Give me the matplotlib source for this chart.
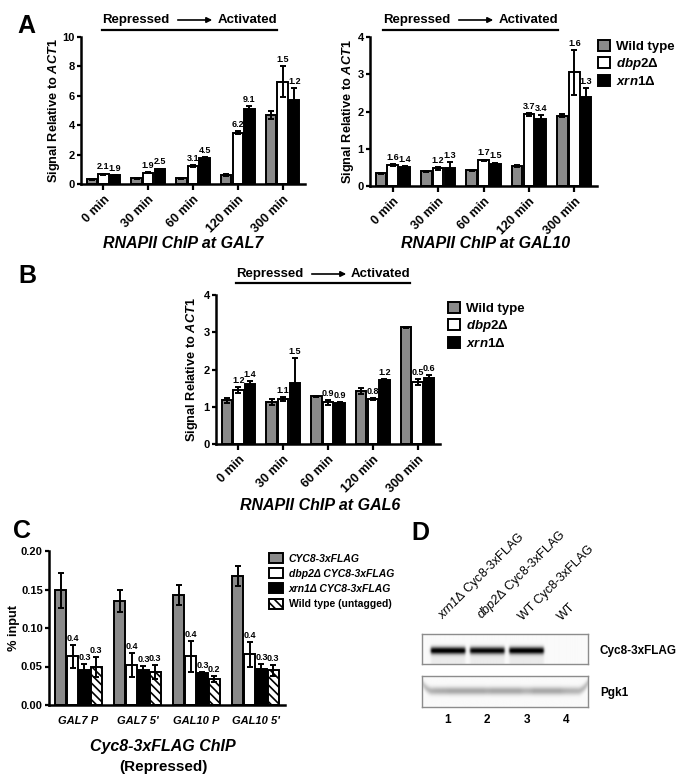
import numpy as np
import matplotlib
matplotlib.use('Agg')
import matplotlib.pyplot as plt
from matplotlib.patches import Patch, FancyArrowPatch

plt.rcParams['font.family'] = ['Liberation Sans', 'DejaVu Sans']
plt.rcParams['font.weight'] = 'bold'
plt.rcParams['axes.labelweight'] = 'bold'
plt.rcParams['mathtext.fontset'] = 'custom'
plt.rcParams['mathtext.it'] = 'Liberation Sans:italic:bold'
plt.rcParams['mathtext.rm'] = 'Liberation Sans:bold'
plt.rcParams['mathtext.bf'] = 'Liberation Sans:bold'
plt.rcParams['mathtext.sf'] = 'Liberation Sans:italic:normal'
plt.rcParams['hatch.linewidth'] = 1.2

# ---- data ----
times = ['0 min', '30 min', '60 min', '120 min', '300 min']
strains = ['Wild type', r'$\mathit{dbp2}$Δ', r'$\mathit{xrn1}$Δ']

gal7_wt = [0.32, 0.40, 0.38, 0.60, 4.70]
gal7_wt_err = [0.04, 0.04, 0.04, 0.06, 0.30]
gal7_dbp2 = [0.66, 0.78, 1.25, 3.50, 6.95]
gal7_dbp2_err = [0.05, 0.06, 0.06, 0.08, 1.05]
gal7_xrn1 = [0.60, 1.00, 1.80, 5.10, 5.70]
gal7_xrn1_err = [0.04, 0.05, 0.05, 0.20, 0.85]
gal7_dbp2_fold = ['2.1', '1.9', '3.1', '6.2', '1.5']
gal7_xrn1_fold = ['1.9', '2.5', '4.5', '9.1', '1.2']

gal10_wt = [0.34, 0.39, 0.42, 0.54, 1.89]
gal10_wt_err = [0.02, 0.02, 0.02, 0.03, 0.04]
gal10_dbp2 = [0.56, 0.47, 0.69, 1.92, 3.05]
gal10_dbp2_err = [0.03, 0.03, 0.02, 0.04, 0.60]
gal10_xrn1 = [0.51, 0.49, 0.60, 1.80, 2.40]
gal10_xrn1_err = [0.03, 0.15, 0.03, 0.11, 0.23]
gal10_dbp2_fold = ['1.6', '1.2', '1.7', '3.7', '1.6']
gal10_xrn1_fold = ['1.4', '1.3', '1.5', '3.4', '1.3']

gal6_wt = [1.17, 1.12, 1.28, 1.42, 3.13]
gal6_wt_err = [0.07, 0.08, 0.02, 0.07, 0.02]
gal6_dbp2 = [1.46, 1.21, 1.12, 1.21, 1.66]
gal6_dbp2_err = [0.08, 0.05, 0.07, 0.02, 0.08]
gal6_xrn1 = [1.60, 1.64, 1.10, 1.73, 1.77]
gal6_xrn1_err = [0.10, 0.66, 0.03, 0.02, 0.07]
gal6_dbp2_fold = ['1.2', '1.1', '0.9', '0.8', '0.5']
gal6_xrn1_fold = ['1.4', '1.5', '0.9', '1.2', '0.6']

regions = ['GAL7 P', "GAL7 5'", 'GAL10 P', "GAL10 5'"]
cyc8_labels = ['CYC8-3xFLAG', 'dbp2Δ CYC8-3xFLAG', 'xrn1Δ CYC8-3xFLAG', 'Wild type (untagged)']
cyc8_wt = [0.149, 0.135, 0.143, 0.167]
cyc8_wt_err = [0.023, 0.014, 0.013, 0.013]
cyc8_dbp2 = [0.063, 0.052, 0.063, 0.066]
cyc8_dbp2_err = [0.015, 0.015, 0.020, 0.016]
cyc8_xrn1 = [0.045, 0.045, 0.041, 0.047]
cyc8_xrn1_err = [0.008, 0.006, 0.002, 0.006]
untagged = [0.049, 0.043, 0.034, 0.045]
untagged_err = [0.013, 0.009, 0.004, 0.007]
cyc8_dbp2_fold = ['0.4', '0.4', '0.4', '0.4']
cyc8_xrn1_fold = ['0.3', '0.3', '0.3', '0.3']
untagged_fold = ['0.3', '0.3', '0.2', '0.3']

lane_labels = [r'$\mathsf{xrn1}$Δ Cyc8-3xFLAG', r'$\mathsf{dbp2}$Δ Cyc8-3xFLAG',
               'WT Cyc8-3xFLAG', 'WT']
lanes = [1, 2, 3, 4]
cyc8_band = [1.0, 0.95, 1.0, 0.0]
pgk1_band = [0.30, 0.28, 0.25, 0.27]

GRAY = '#8a8a8a'
W, H = 683, 776
fig = plt.figure(figsize=(W / 100, H / 100), dpi=100)


def fx(x):
    return x / W


def fy(y):
    return 1 - y / H


def px_axes(x0, y0, x1, y1):
    ax = fig.add_axes([fx(x0), fy(y1), (x1 - x0) / W, (y1 - y0) / H])
    ax.px = (x0, y0, x1, y1)
    return ax


def ylabel_at(ax, text, xpix, size=9.2):
    # xpix = centre of the rotated label in pixels
    x0, y0, x1, y1 = ax.px
    ax.set_ylabel(text, fontsize=size)
    ax.yaxis.set_label_coords((xpix + 6.5 - x0) / (x1 - x0), 0.5)


def prism(ax):
    for s in ['top', 'right']:
        ax.spines[s].set_visible(False)
    for s in ['left', 'bottom']:
        ax.spines[s].set_linewidth(1.8)
    ax.tick_params(width=1.6, length=3, labelsize=8, direction='out', pad=1.5)


def grouped(ax, series, errs, fills, hatches, width, folds):
    n = len(series)
    x = np.arange(len(series[0]))
    for i in range(n):
        pos = x + (i - (n - 1) / 2) * width
        ax.bar(pos, series[i], width * 0.9, color=fills[i], edgecolor='black',
               linewidth=1.4, hatch=hatches[i], zorder=2)
        ax.errorbar(pos, series[i], yerr=errs[i], fmt='none', ecolor='black',
                    elinewidth=1.4, capsize=2.5, capthick=1.4, zorder=3)
        if folds[i] is not None:
            for p, v, e, t in zip(pos, series[i], errs[i], folds[i]):
                ax.annotate(t, (p, v + e), xytext=(0, 1.5), textcoords='offset points',
                            ha='center', va='bottom', fontsize=6.5, fontweight='bold')
    return x


def header(x0, x1, y_text, y_line):
    fig.text(fx(x0), fy(y_text), 'Repressed', ha='left', va='center', fontsize=9.5)
    fig.text(fx(x1), fy(y_text), 'Activated', ha='right', va='center', fontsize=9.5)
    fig.add_artist(plt.Line2D([fx(x0), fx(x1)], [fy(y_line), fy(y_line)], color='black', lw=1.6))
    fig.add_artist(FancyArrowPatch(
        (fx(x0 + 73), fy(y_text)), (fx(x0 + 113), fy(y_text)), transform=fig.transFigure,
        arrowstyle='-|>', mutation_scale=8, color='black', lw=1.2))


def time_panel(box, wt, wte, dbp, dbpe, xrn, xrne, fd, fx_, ymax, step, label_x):
    ax = px_axes(*box)
    prism(ax)
    x = grouped(ax, [wt, dbp, xrn], [wte, dbpe, xrne], [GRAY, 'white', 'black'],
                [None, None, None], 0.26, [None, fd, fx_])
    ax.set_xlim(-0.5, 4.5)
    ax.set_ylim(0, ymax)
    ax.set_yticks(np.arange(0, ymax + 0.01, step))
    ax.set_xticks(x)
    ax.set_xticklabels(times, rotation=45, ha='right', rotation_mode='anchor', fontsize=9)
    ax.tick_params(axis='x', pad=3, length=4)
    ylabel_at(ax, r'Signal Relative to $\mathit{ACT1}$', label_x)
    return ax


def strain_legend(x, y):
    handles = [Patch(facecolor=c, edgecolor='black', linewidth=1.4) for c in [GRAY, 'white', 'black']]
    fig.legend(handles, strains, loc='upper left', bbox_to_anchor=(fx(x), fy(y)),
               frameon=False, fontsize=9.5, handlelength=0.9, handleheight=0.9,
               handletextpad=0.45, labelspacing=0.22, borderaxespad=0, borderpad=0)


# ---- panel A ----
time_panel((81, 37, 305, 184), gal7_wt, gal7_wt_err, gal7_dbp2, gal7_dbp2_err,
           gal7_xrn1, gal7_xrn1_err, gal7_dbp2_fold, gal7_xrn1_fold, 10, 2, 55)
time_panel((370, 37, 597, 186), gal10_wt, gal10_wt_err, gal10_dbp2, gal10_dbp2_err,
           gal10_xrn1, gal10_xrn1_err, gal10_dbp2_fold, gal10_xrn1_fold, 4, 1, 350)
header(102, 277, 20, 30)
header(383, 558, 20, 30)
fig.text(fx(183), fy(243), 'RNAPII ChIP at GAL7', ha='center', va='center',
         fontsize=11.5, style='italic')
fig.text(fx(486), fy(243), 'RNAPII ChIP at GAL10', ha='center', va='center',
         fontsize=11.5, style='italic')
strain_legend(598, 40)
fig.text(fx(17), fy(33), 'A', fontsize=18, ha='left', va='baseline')

# ---- panel B ----
time_panel((216, 295, 440, 444), gal6_wt, gal6_wt_err, gal6_dbp2, gal6_dbp2_err,
           gal6_xrn1, gal6_xrn1_err, gal6_dbp2_fold, gal6_xrn1_fold, 4, 1, 193)
header(236, 410, 274, 283)
fig.text(fx(320), fy(505), 'RNAPII ChIP at GAL6', ha='center', va='center',
         fontsize=11.5, style='italic')
strain_legend(448, 302)
fig.text(fx(18), fy(283), 'B', fontsize=18, ha='left', va='baseline')

# ---- panel C ----
axc = px_axes(49, 551, 285, 705)
prism(axc)
xc = grouped(axc, [cyc8_wt, cyc8_dbp2, cyc8_xrn1, untagged],
             [cyc8_wt_err, cyc8_dbp2_err, cyc8_xrn1_err, untagged_err],
             [GRAY, 'white', 'black', 'white'], [None, None, None, '\\\\\\\\'], 0.2,
             [None, cyc8_dbp2_fold, cyc8_xrn1_fold, untagged_fold])
axc.set_xlim(-0.5, 3.5)
axc.set_ylim(0, 0.2)
axc.set_yticks(np.arange(0, 0.201, 0.05))
axc.yaxis.set_major_formatter(plt.FormatStrFormatter('%.2f'))
axc.set_xticks(xc)
axc.set_xticklabels(regions, fontsize=8, style='italic')
axc.tick_params(axis='x', length=0, pad=8)
ylabel_at(axc, '% input', 13)
hc = [Patch(facecolor=c, edgecolor='black', linewidth=1.4, hatch=h)
      for c, h in zip([GRAY, 'white', 'black', 'white'], [None, None, None, '\\\\\\\\'])]
leg = fig.legend(hc, cyc8_labels, loc='upper left', bbox_to_anchor=(fx(269), fy(553)),
                 frameon=False, fontsize=7.5, handlelength=1.3, handleheight=1.1,
                 handletextpad=0.6, labelspacing=0.45, borderaxespad=0, borderpad=0)
for t in leg.get_texts()[:3]:
    t.set_style('italic')
fig.text(fx(163), fy(747), 'Cyc8-3xFLAG ChIP', ha='center', va='center',
         fontsize=11.5, style='italic')
fig.text(fx(163), fy(767), '(Repressed)', ha='center', va='center', fontsize=11)
fig.text(fx(13), fy(538), 'C', fontsize=18, ha='left', va='baseline')

# ---- panel D (western blot) ----
fig.text(fx(411), fy(540), 'D', fontsize=18, ha='left', va='baseline')
blot_x0, blot_x1 = 422, 588
xlim_d = (0.34, 4.56)
gx = np.linspace(*xlim_d, 400)
gy = np.linspace(0, 1, 60)
X, Y = np.meshgrid(gx, gy)


def lane_profile(amps, half):
    prof = np.zeros_like(X)
    for ln, a in zip(lanes, amps):
        prof += a * 0.5 * (np.tanh((X - ln + half) * 30) - np.tanh((X - ln - half) * 30))
    return prof


ax1 = px_axes(blot_x0, 634, blot_x1, 664)
img1 = lane_profile(cyc8_band, 0.44) * np.exp(-((Y - 0.45) / 0.12) ** 2)
img1 += lane_profile(cyc8_band, 0.44) * 0.06 * (Y < 0.45)
ax1.imshow(np.clip(img1 + 0.02, 0, 1), extent=(*xlim_d, 0, 1), origin='lower',
           cmap='gray_r', vmin=0, vmax=1, aspect='auto', interpolation='bilinear')

ax2 = px_axes(blot_x0, 676, blot_x1, 707)
img2 = np.zeros_like(X)
for ln, a in zip(lanes, pgk1_band):
    img2 += a * np.exp(-((X - ln) / 0.75) ** 4)
ycen = 0.52 + 0.35 * np.clip((np.abs(X - 2.45) - 1.85) / 0.3, 0, 1) ** 2
img2 = np.clip(img2, 0, 0.32) * np.exp(-((Y - ycen) / 0.13) ** 2)
ax2.imshow(np.clip(img2 + 0.02, 0, 1), extent=(*xlim_d, 0, 1), origin='lower',
           cmap='gray_r', vmin=0, vmax=1, aspect='auto', interpolation='bilinear')

for a in (ax1, ax2):
    a.set_xlim(*xlim_d)
    a.set_ylim(0, 1)
    a.set_xticks([])
    a.set_yticks([])
    for s in a.spines.values():
        s.set_color('#8c8c8c')
        s.set_linewidth(1.0)

fig.text(fx(600), fy(651), 'Cyc8-3xFLAG', ha='left', va='center', fontsize=8.5)
fig.text(fx(600), fy(693), 'Pgk1', ha='left', va='center', fontsize=8.5)
to_fig = lambda v: fx(blot_x0 + (v - xlim_d[0]) / (xlim_d[1] - xlim_d[0]) * (blot_x1 - blot_x0))
for ln, lab in zip(lanes, lane_labels):
    fig.text(to_fig(ln) - fx(2), fy(623), lab, rotation=45, ha='left', va='bottom',
             rotation_mode='anchor', fontsize=9, fontweight='normal')
    fig.text(to_fig(ln), fy(720), str(ln), ha='center', va='center', fontsize=8.5)

plt.savefig('out.png', dpi=100)
